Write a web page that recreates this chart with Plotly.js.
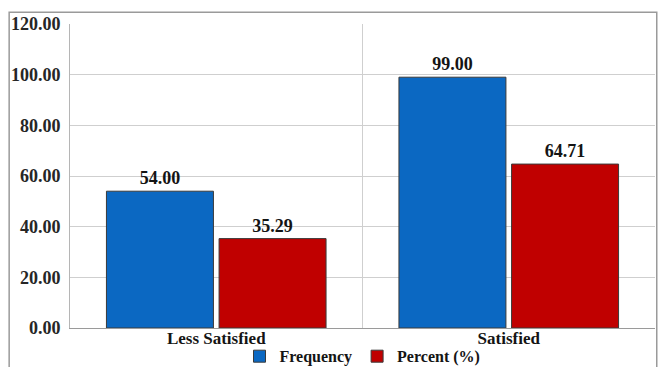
<!DOCTYPE html>
<html>
<head>
<meta charset="utf-8">
<script src="https://cdn.plot.ly/plotly-3.0.1.min.js"></script>
<style>
  html, body { margin: 0; padding: 0; background: #fff; }
  #chart { width: 659px; height: 367px; }
</style>
</head>
<body>
<div id="chart"></div>
<script>
// Satisfaction levels: counts and share of respondents
const categories = ['Less Satisfied', 'Satisfied'];
const frequency = [54, 99];
const percent = [35.29, 64.71];
const seriesNames = ['Frequency', 'Percent (%)'];
const yTicks = [0, 20, 40, 60, 80, 100, 120];

const serif = 'Liberation Serif';
const ink = '#141414';

function barTrace(name, values, color) {
  return {
    type: 'bar',
    name: name,
    x: categories,
    y: values,
    marker: { color: color, line: { color: '#3a3a3a', width: 1 } },
    text: values,
    texttemplate: '%{y:.2f}',
    textposition: 'outside',
    cliponaxis: false,
    textfont: { family: serif, size: 18, color: ink, weight: 'bold' },
    hoverinfo: 'x+y'
  };
}

const data = [
  barTrace(seriesNames[0], frequency, '#0b68c2'),
  barTrace(seriesNames[1], percent, '#c00000')
];

const layout = {
  width: 659,
  height: 367,
  margin: { l: 70, r: 4, t: 24, b: 39, autoexpand: false },
  paper_bgcolor: '#ffffff',
  plot_bgcolor: '#ffffff',
  barmode: 'group',
  bargap: 0.23,
  bargroupgap: 0.05,
  font: { family: serif, size: 18, color: ink, weight: 'bold' },
  xaxis: {
    type: 'category',
    tickson: 'boundaries',
    ticks: '',
    showgrid: true,
    gridcolor: '#cfcfcf',
    gridwidth: 1,
    showline: true,
    linecolor: '#9a9a9a',
    linewidth: 1,
    automargin: false,
    tickfont: { family: serif, size: 17, color: ink, weight: 'bold' },
    ticklabelstandoff: -5
  },
  yaxis: {
    range: [0, 120],
    tickvals: yTicks,
    tickformat: '.2f',
    showgrid: true,
    gridcolor: '#cfcfcf',
    gridwidth: 1,
    zeroline: false,
    showline: true,
    linecolor: '#b5b5b5',
    linewidth: 1,
    ticks: '',
    automargin: false,
    ticklabelstandoff: 5,
    tickfont: { family: serif, size: 18, color: '#262626', weight: 'bold' }
  },
  showlegend: true,
  legend: {
    orientation: 'h',
    x: 0.5,
    xanchor: 'center',
    y: -0.093,
    yanchor: 'middle',
    bgcolor: 'rgba(0,0,0,0)',
    font: { family: serif, size: 16, color: ink, weight: 'bold' },
    itemwidth: 30,
    tracegroupgap: 0
  },
  shapes: [{
    type: 'rect',
    xref: 'paper',
    yref: 'paper',
    x0: -0.104,
    x1: 1.003,
    y0: -0.3,
    y1: 1.039,
    line: { color: '#9a9a9a', width: 1.5 },
    fillcolor: 'rgba(0,0,0,0)',
    layer: 'below'
  }]
};

Plotly.newPlot('chart', data, layout, { displayModeBar: false, staticPlot: true });
</script>
</body>
</html>
